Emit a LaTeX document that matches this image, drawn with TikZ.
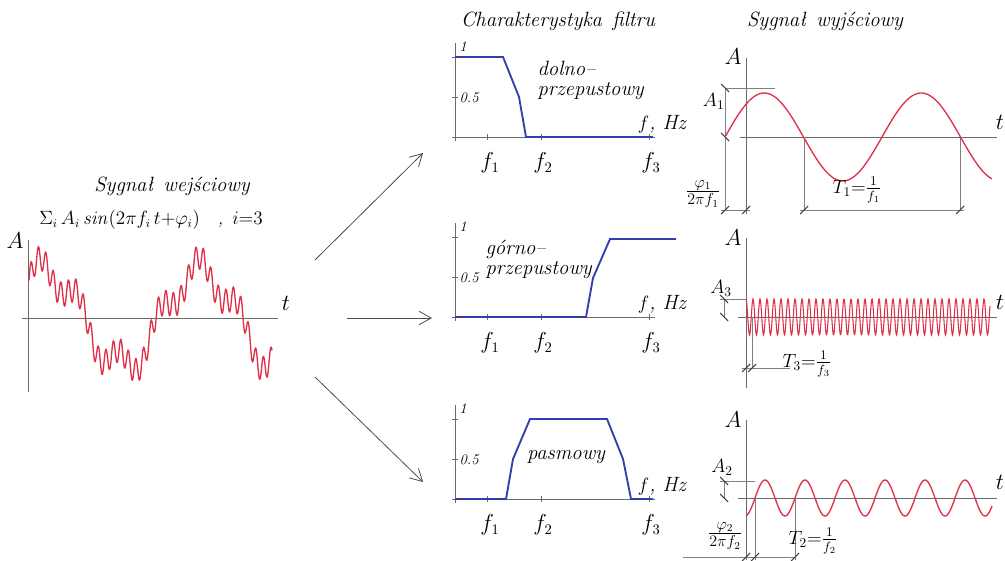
\documentclass[tikz,border=0pt]{standalone}
\usetikzlibrary{positioning, arrows.meta}
\definecolor{csygnal}{RGB}{222,48,72}
\definecolor{cfiltr}{RGB}{52,62,172}
\definecolor{caxe}{gray}{0.42}
\newcommand{\ukos}[2]{\draw[kreska] ({#1-4},{#2+4}) -- ({#1+4},{#2-4});}
\newcommand{\ukosb}[2]{\draw[kreska] ({#1-4},{#2-4}) -- ({#1+4},{#2+4});}

\begin{document}
\begin{tikzpicture}[x=0.75pt, y=-0.75pt,
  os/.style={caxe, line width=0.5pt},
  wymiar/.style={gray, line width=0.4pt},
  kreska/.style={black!75, line width=0.8pt},
  sygnal/.style={csygnal, line width=1pt},
  filtr/.style={cfiltr, line width=1.4pt},
  tytul/.style={font=\fontsize{15.5}{18}\selectfont\itshape},
  opis/.style={font=\fontsize{15.5}{14.5}\selectfont\itshape},
  etyk/.style={font=\fontsize{16}{18}\selectfont},
  wym/.style={font=\fontsize{14}{16}\selectfont, inner sep=1pt},
  maly/.style={font=\fontsize{11}{12}\selectfont\itshape},
  strzalka/.style={gray!60!black, line width=0.6pt,
                   -{Straight Barb[length=9pt, width=10pt]}}]
  \useasboundingbox (0,0) rectangle (1005,560);

  % --- sygnal wejsciowy ------------------------------------------------
  \node[tytul] (tWej) at (172,186) {Sygnał\enspace wejściowy};
  \node[opis, font=\fontsize{13.5}{15}\selectfont\itshape, inner sep=1pt]
       (wzor) at (151,220)
       {$\Sigma_i\,A_i\,\mathit{sin}(2\pi f_i\,t{+}\varphi_i)$\quad,\enspace$i{=}3$};
  \draw[os] (28,240) -- (28,392);
  \draw[os] (22,318) -- (278,318);
  \node[etyk] (osA0) at (15,241) {$A$};
  \node[etyk] (osT0) at (286,303) {$t$};
  \draw[sygnal] plot[domain=29:272, samples=700]
    (\x, {318 - (47*sin((\x-29)/155*360+53) + 14*sin((\x-29)/40*360)
                 + 12*sin((\x-29)/7.5*360))});

  % --- strzalki do filtrow ---------------------------------------------
  \coordinate (wej1) at (315,260);
  \coordinate (wej2) at (347,318);
  \coordinate (wej3) at (315,377);
  \coordinate (fil1) at (423,153);
  \coordinate (fil2) at (432,318);
  \coordinate (fil3) at (423,482);
  \draw[strzalka] (wej1) -- (fil1);
  \draw[strzalka] (wej2) -- (fil2);
  \draw[strzalka] (wej3) -- (fil3);

  % --- charakterystyki filtrow: osie -----------------------------------
  \node[tytul] (tFil) at (558,21) {Charakterystyka\enspace filtru};
  \foreach \d/\n in {0/a, 180/b, 362/c} {
    \draw[os] (455,{43+\d}) -- (455,{141+\d});
    \draw[os] (452,{137+\d}) -- (655,{137+\d});
    \draw[os] (452,{57+\d}) -- (458,{57+\d});
    \draw[os] (452,{97+\d}) -- (458,{97+\d});
    \foreach \f in {487, 541, 649}
      \draw[os] (\f,{134+\d}) -- (\f,{140+\d});
    \node[maly] (jed\n) at (463,{47+\d}) {1};
    \node[maly, anchor=west, inner sep=1pt] (pol\n) at (458,{98+\d}) {0.5};
    \node[etyk] (fa\n) at (490,{163+\d}) {$f_1$};
    \node[etyk] (fb\n) at (543,{163+\d}) {$f_2$};
    \node[etyk] (fc\n) at (651,{163+\d}) {$f_3$};
    \node[opis] (hz\n) at (662,{124+\d}) {$f$, Hz};
  }

  % --- charakterystyki filtrow: krzywe ---------------------------------
  \draw[filtr] (455,57) -- (503,57) -- (519,97) -- (526,137) -- (653,137);
  \node[opis, align=left, anchor=north west, inner sep=1pt] (dolno) at (536,60)
       {dolno--\\przepustowy};
  \draw[filtr] (455,317) -- (586,317) -- (593,278) -- (610,239) -- (676,239);
  \node[opis, anchor=base west, inner sep=1pt] (gorno) at (484,254) {górno--};
  \node[opis, anchor=base west, inner sep=1pt] (gorno2) at (484,274)
       {przepustowy};
  \draw[filtr] (455,499) -- (506,499) -- (513,459) -- (530,419) -- (607,419)
               -- (623,459) -- (631,499) -- (653,499);
  \node[opis] (pasm) at (566,457) {pasmowy};

  % --- sygnal wyjsciowy 1 ----------------------------------------------
  \node[tytul] (tWyj) at (825,21) {Sygnał\enspace wyjściowy};
  \draw[os] (746,58) -- (746,214);
  \draw[os] (740,137) -- (997,137);
  \node[etyk] (osA1) at (733,57) {$A$};
  \node[etyk] (osT1) at (1000,122) {$t$};
  \draw[wymiar] (725,88) -- (775,88);
  \draw[wymiar] (725,88) -- (725,210);
  \draw[wymiar] (804,137) -- (804,210);
  \draw[wymiar] (960,137) -- (960,210);
  \draw[wymiar] (721,210) -- (750,210);
  \draw[wymiar] (800,210) -- (964,210);
  \ukosb{725}{88} \ukosb{725}{137}
  \ukos{725}{210} \ukos{746}{210} \ukos{804}{210} \ukos{960}{210}
  \draw[sygnal] plot[domain=725:992, samples=150, smooth]
    (\x, {137 - 44*sin((\x-725)/157*360)});
  \node[wym, anchor=east] (A1) at (726,101) {$A_1$};
  \node[wym, font=\fontsize{17}{18}\selectfont] (fi1) at (703,194)
       {$\frac{\varphi_1}{2\pi f_1}$};
  \node[wym] (T1) at (857,190) {$T_1{=}\frac{1}{f_1}$};

  % --- sygnal wyjsciowy 3 ----------------------------------------------
  \draw[os] (746,238) -- (746,388);
  \draw[os] (738,317) -- (997,317);
  \node[etyk] (osA2) at (733,238) {$A$};
  \node[etyk] (osT2) at (1000,302) {$t$};
  \draw[wymiar] (720,299) -- (746,299);
  \draw[wymiar] (724,299) -- (724,317);
  \draw[wymiar] (752,317) -- (752,368);
  \draw[wymiar] (742,368) -- (790,368);
  \ukosb{724}{299} \ukosb{724}{317}
  \ukos{746}{368} \ukos{752}{368}
  \draw[sygnal, line width=0.8pt] plot[domain=746:990, samples=560]
    (\x, {317 - 18*cos((\x-746)/7*360)});
  \node[wym] (A3) at (721,288) {$A_3$};
  \node[wym] (T3) at (807,364) {$T_3{=}\frac{1}{f_3}$};

  % --- sygnal wyjsciowy 2 ----------------------------------------------
  \draw[os] (746,420) -- (746,560);
  \draw[os] (738,498) -- (997,498);
  \node[etyk] (osA3) at (733,420) {$A$};
  \node[etyk] (osT3) at (1000,482) {$t$};
  \draw[wymiar] (720,481) -- (755,481);
  \draw[wymiar] (724,481) -- (724,498);
  \draw[wymiar] (755,498) -- (755,560);
  \draw[wymiar] (795,498) -- (795,560);
  \draw[wymiar] (683,557) -- (795,557);
  \ukosb{724}{481} \ukosb{724}{498}
  \ukos{746}{557} \ukos{755}{557} \ukos{795}{557}
  \draw[sygnal] plot[domain=746:992, samples=200, smooth]
    (\x, {498 - 18*sin((\x-755)/40*360)});
  \node[wym] (A2) at (722,467) {$A_2$};
  \node[wym, font=\fontsize{17}{18}\selectfont] (fi2) at (725,536)
       {$\frac{\varphi_2}{2\pi f_2}$};
  \node[wym] (T2) at (813,541) {$T_2{=}\frac{1}{f_2}$};
\end{tikzpicture}
\end{document}
